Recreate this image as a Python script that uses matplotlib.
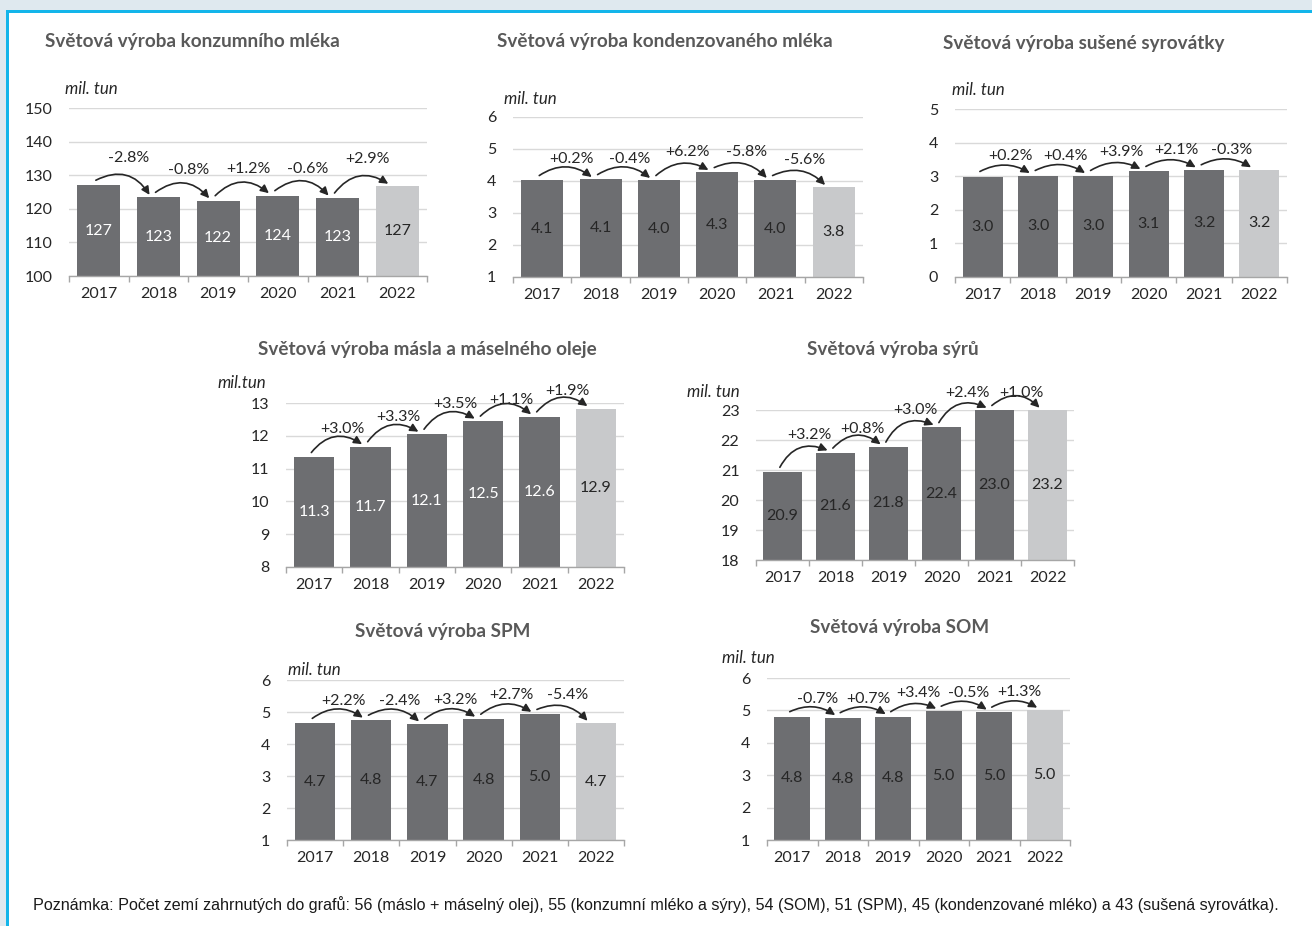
import matplotlib
matplotlib.use("Agg")
import matplotlib.pyplot as plt
from matplotlib.patches import Rectangle

plt.rcParams['font.family'] = ['Lato', 'DejaVu Sans']

W, H = 1312, 926
DPI = 100

years = ["2017", "2018", "2019", "2020", "2021", "2022"]

# Konzumní mléko
milk_vals = [127.0, 123.4, 122.4, 123.9, 123.2, 126.7]
milk_labels = ["127", "123", "122", "124", "123", "127"]
milk_pcts = ["-2.8%", "-0.8%", "+1.2%", "-0.6%", "+2.9%"]

# Kondenzované mléko
cond_vals = [4.02, 4.05, 4.02, 4.27, 4.02, 3.80]
cond_labels = ["4.1", "4.1", "4.0", "4.3", "4.0", "3.8"]
cond_pcts = ["+0.2%", "-0.4%", "+6.2%", "-5.8%", "-5.6%"]

# Sušená syrovátka
whey_vals = [2.99, 3.02, 3.02, 3.14, 3.19, 3.19]
whey_labels = ["3.0", "3.0", "3.0", "3.1", "3.2", "3.2"]
whey_pcts = ["+0.2%", "+0.4%", "+3.9%", "+2.1%", "-0.3%"]

# Máslo a máselný olej
butter_vals = [11.34, 11.67, 12.05, 12.45, 12.58, 12.83]
butter_labels = ["11.3", "11.7", "12.1", "12.5", "12.6", "12.9"]
butter_pcts = ["+3.0%", "+3.3%", "+3.5%", "+1.1%", "+1.9%"]

# Sýry
cheese_vals = [20.94, 21.58, 21.78, 22.43, 23.0, 23.2]
cheese_labels = ["20.9", "21.6", "21.8", "22.4", "23.0", "23.2"]
cheese_pcts = ["+3.2%", "+0.8%", "+3.0%", "+2.4%", "+1.0%"]

# SPM
spm_vals = [4.65, 4.75, 4.63, 4.78, 4.93, 4.65]
spm_labels = ["4.7", "4.8", "4.7", "4.8", "5.0", "4.7"]
spm_pcts = ["+2.2%", "-2.4%", "+3.2%", "+2.7%", "-5.4%"]

# SOM
som_vals = [4.81, 4.78, 4.81, 4.98, 4.95, 5.01]
som_labels = ["4.8", "4.8", "4.8", "5.0", "5.0", "5.0"]
som_pcts = ["-0.7%", "+0.7%", "+3.4%", "-0.5%", "+1.3%"]

note = ("Poznámka: Počet zemí zahrnutých do grafů: 56 (máslo + máselný olej), 55 (konzumní mléko a sýry), "
        "54 (SOM), 51 (SPM), 45 (kondenzované mléko) a 43 (sušená syrovátka).")

DARK = "#6d6e71"
LIGHT = "#c8c9cb"
TXT = "#262626"
TITLE_C = "#595959"

charts = [
    dict(title="Světová výroba konzumního mléka", vals=milk_vals, labels=milk_labels, pcts=milk_pcts,
         ylim=(100, 150), step=10, box=(69, 427, 108, 276), title_xy=(45, 42), unit_xy=(65, 89),
         unit="mil. tun", lab_c="white", poff=0.16, rad=-0.45),
    dict(title="Světová výroba kondenzovaného mléka", vals=cond_vals, labels=cond_labels, pcts=cond_pcts,
         ylim=(1, 6), step=1, box=(513, 863, 117, 277), title_xy=(497, 42), unit_xy=(504, 99),
         unit="mil. tun", lab_c=TXT, poff=0.125, rad=-0.35),
    dict(title="Světová výroba sušené syrovátky", vals=whey_vals, labels=whey_labels, pcts=whey_pcts,
         ylim=(0, 5), step=1, box=(955, 1287, 109, 277), title_xy=(943, 43), unit_xy=(952, 90),
         unit="mil. tun", lab_c=TXT, poff=0.115, rad=-0.28),
    dict(title="Světová výroba másla a máselného oleje", vals=butter_vals, labels=butter_labels, pcts=butter_pcts,
         ylim=(8, 13), step=1, box=(286, 624, 403, 567), title_xy=(258, 350), unit_xy=(217, 383),
         unit="mil.tun", lab_c="white", poff=0.105, rad=-0.45),
    dict(title="Světová výroba sýrů", vals=cheese_vals, labels=cheese_labels, pcts=cheese_pcts,
         ylim=(18, 23), step=1, box=(756, 1074, 410, 560), title_xy=(807, 350), unit_xy=(687, 392),
         unit="mil. tun", lab_c=TXT, poff=0.115, rad=-0.45),
    dict(title="Světová výroba SPM", vals=spm_vals, labels=spm_labels, pcts=spm_pcts,
         ylim=(1, 6), step=1, box=(287, 624, 680, 840), title_xy=(355, 632), unit_xy=(288, 670),
         unit="mil. tun", lab_c=TXT, poff=0.12, rad=-0.35),
    dict(title="Světová výroba SOM", vals=som_vals, labels=som_labels, pcts=som_pcts,
         ylim=(1, 6), step=1, box=(767, 1070, 678, 840), title_xy=(810, 627), unit_xy=(722, 658),
         unit="mil. tun", lab_c=TXT, poff=0.11, rad=-0.28),
]

fig = plt.figure(figsize=(W / DPI, H / DPI), dpi=DPI)
fig.patch.set_facecolor("white")


def frect(x0, y0, x1, y1, color, z):
    fig.add_artist(Rectangle((x0 / W, 1 - y1 / H), (x1 - x0) / W, (y1 - y0) / H,
                             transform=fig.transFigure, facecolor=color, edgecolor="none", zorder=z))


frect(0, 0, W, H, "#dfe9ef", -30)
frect(6, 10, W, H, "#13b5ea", -29)
frect(9, 13, W, H, "white", -28)

for c in charts:
    x0, x1, yt, yb = c["box"]
    ax = fig.add_axes([x0 / W, 1 - yb / H, (x1 - x0) / W, (yb - yt) / H])
    ax.set_facecolor("none")
    vals = c["vals"]
    n = len(vals)
    colors = [DARK] * (n - 1) + [LIGHT]
    xs = list(range(n))
    ax.bar(xs, vals, width=0.72, color=colors, zorder=2)
    lo, hi = c["ylim"]
    rng = hi - lo
    ax.set_xlim(-0.5, n - 0.5)
    ax.set_ylim(lo, hi)
    ticks = [lo + k * c["step"] for k in range(int(round(rng / c["step"])) + 1)]
    ax.set_yticks(ticks)
    ax.set_yticklabels([f"{t:g}" for t in ticks])
    ax.yaxis.grid(True, color="#d9d9d9", lw=1.0)
    ax.set_axisbelow(True)
    for s in ("top", "right", "left"):
        ax.spines[s].set_visible(False)
    ax.spines["bottom"].set_color("#a6a6a6")
    ax.spines["bottom"].set_linewidth(1.0)
    ax.set_xticks(xs)
    ax.set_xticklabels(years)
    ax.set_xticks([i - 0.5 for i in range(n + 1)], minor=True)
    ax.tick_params(axis="x", which="major", length=0, pad=8, labelsize=11.5, labelcolor=TXT)
    ax.tick_params(axis="x", which="minor", length=4, color="#a6a6a6", width=1)
    ax.tick_params(axis="y", length=0, pad=12, labelsize=11.5, labelcolor=TXT)

    # value labels inside bars
    for i, (v, lab) in enumerate(zip(vals, c["labels"])):
        yv = (lo + min(v, hi)) / 2
        col = c["lab_c"] if i < n - 1 else TXT
        ax.text(i, yv, lab, ha="center", va="center", fontsize=11.5, color=col, zorder=3)

    # percentage arrows
    for i, p in enumerate(c["pcts"]):
        v0 = min(vals[i], hi)
        v1 = min(vals[i + 1], hi)
        ax.annotate("", xy=(i + 1 - 0.15, v1 + 0.015 * rng), xytext=(i - 0.05, v0 + 0.03 * rng),
                    arrowprops=dict(arrowstyle="-|>", color="#262626", lw=1.2, mutation_scale=12,
                                    shrinkA=0, shrinkB=0, connectionstyle=f"arc3,rad={c['rad']}"),
                    annotation_clip=False, zorder=4)
        ax.text(i + 0.5, max(v0, v1) + c["poff"] * rng, p, ha="center", va="center",
                fontsize=11.5, color=TXT, clip_on=False, zorder=5)

    fig.text(c["title_xy"][0] / W, 1 - c["title_xy"][1] / H, c["title"], ha="left", va="center",
             fontsize=13.6, fontweight="bold", color=TITLE_C)
    fig.text(c["unit_xy"][0] / W, 1 - c["unit_xy"][1] / H, c["unit"], ha="left", va="center",
             fontsize=12.2, style="italic", color=TXT)

fig.text(33 / W, 1 - 905 / H, note, ha="left", va="center", fontsize=11.6, color="#1a1a1a",
         family=["Liberation Sans Narrow", "Liberation Sans", "DejaVu Sans"])

fig.savefig("out.png", dpi=DPI)
